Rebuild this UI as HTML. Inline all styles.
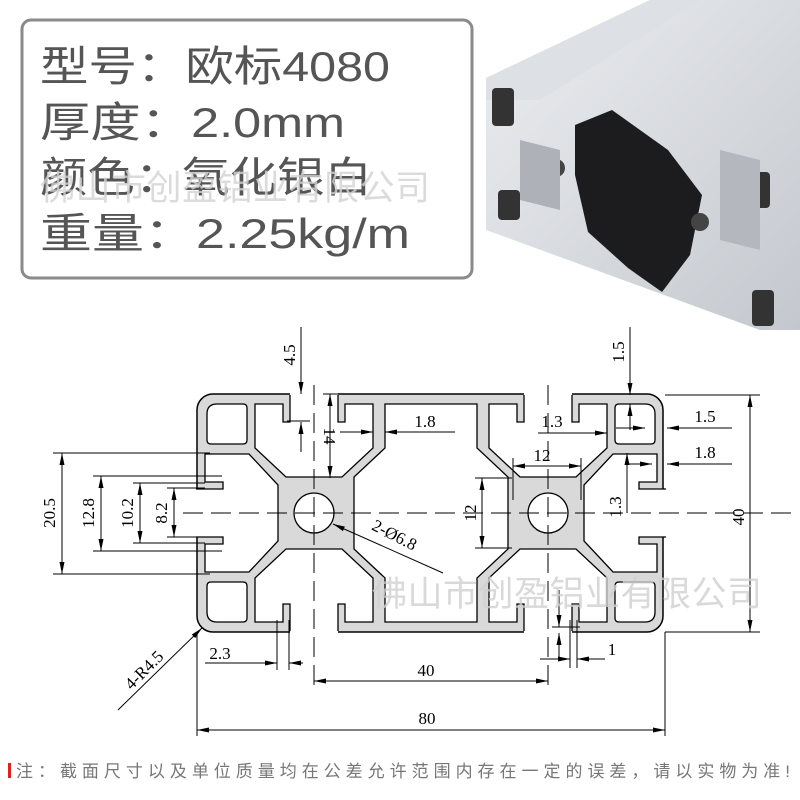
<!DOCTYPE html>
<html><head><meta charset="utf-8"><style>
html,body{margin:0;padding:0;background:#fff;}
body{width:800px;height:800px;overflow:hidden;position:relative;}
</style></head><body>
<svg width="800" height="800" viewBox="0 0 800 800" xmlns="http://www.w3.org/2000/svg" style="position:absolute;left:0;top:0">
<defs>
<marker id="a" markerWidth="12" markerHeight="6" refX="12" refY="3" orient="auto" markerUnits="userSpaceOnUse"><path d="M0,0.5 L12,3 L0,5.5 Z" fill="#000"/></marker>
<linearGradient id="g1" x1="0" y1="0" x2="1" y2="1"><stop offset="0" stop-color="#eceef1"/><stop offset="1" stop-color="#c4c8ce"/></linearGradient>
<g id="slot">
<polygon points="255,404 283,404 283,422 290,422 290,392 338,392 338,422 345,422 345,404 373,404 373,448 342,477 286,477 255,448" fill="#fff"/>
<polyline points="290,395 290,422 283,422 283,404 255,404 255,448 286,477 342,477 373,448 373,404 345,404 345,422 338,422 338,395" fill="none" stroke="#000" stroke-width="1.3"/>
</g>
</defs>

<!-- photo -->
<polygon points="486,78 650,0 800,0 800,330 760,330 486,230" fill="url(#g1)"/>
<polygon points="486,78 650,0 700,0 540,100 486,100" fill="#dde0e4"/>
<polygon points="575,125 612,110 668,150 702,195 690,255 662,292 628,268 588,232 575,175" fill="#1c1c1e"/>
<rect x="492" y="88" width="22" height="38" rx="4" fill="#333"/>
<rect x="498" y="190" width="22" height="30" rx="4" fill="#333"/>
<rect x="748" y="172" width="22" height="36" rx="4" fill="#333"/>
<rect x="752" y="290" width="22" height="36" rx="4" fill="#333"/>
<circle cx="556" cy="168" r="9" fill="#444"/>
<circle cx="700" cy="222" r="9" fill="#444"/>
<polygon points="520,140 560,150 560,210 520,200" fill="#aeb2b8"/>
<polygon points="720,150 760,160 760,250 720,240" fill="#b4b8be"/>

<!-- info box -->
<rect x="22" y="20" width="450" height="258" rx="9" fill="#fff" stroke="#8a8a8a" stroke-width="3"/>
<g font-family="Liberation Sans, Noto Sans CJK SC, sans-serif" font-size="42" fill="#555">
<text x="40" y="81" textLength="350" lengthAdjust="spacingAndGlyphs">型号：欧标4080</text>
<text x="40" y="137" textLength="305" lengthAdjust="spacingAndGlyphs">厚度：2.0mm</text>
<text x="40" y="192" textLength="332" lengthAdjust="spacingAndGlyphs">颜色：氧化银白</text>
<text x="40" y="248" textLength="370" lengthAdjust="spacingAndGlyphs">重量：2.25kg/m</text>
</g>
<text x="40" y="200" font-family="Liberation Sans, Noto Sans CJK SC, sans-serif" font-size="35" fill="#d2d2d2" fill-opacity="0.8" textLength="390">佛山市创盈铝业有限公司</text>

<!-- profile -->
<rect x="197" y="394" width="466" height="238" rx="16" fill="#d9d9d9" stroke="#000" stroke-width="1.5"/>
<use href="#slot"/>
<use href="#slot" transform="rotate(180 314 513)"/>
<use href="#slot" transform="rotate(-90 314 513)"/>
<use href="#slot" transform="translate(234 0)"/>
<use href="#slot" transform="translate(234 0) rotate(180 314 513)"/>
<use href="#slot" transform="translate(234 0) rotate(90 314 513)"/>
<g fill="#fff" stroke="#000" stroke-width="1.3">
<polygon points="385,404 477,404 477,448 508,477 508,549 477,578 477,622 385,622 385,578 354,549 354,477 385,448"/>
<path d="M217,404 H243 Q247,404 247,408 V440 Q247,444 243,444 H211 Q207,444 207,440 V414 Q207,404 217,404 Z"/>
<path d="M645,404 H619 Q615,404 615,408 V440 Q615,444 619,444 H651 Q655,444 655,440 V414 Q655,404 645,404 Z"/>
<path d="M217,622 H243 Q247,622 247,618 V586 Q247,582 243,582 H211 Q207,582 207,586 V612 Q207,622 217,622 Z"/>
<path d="M645,622 H619 Q615,622 615,618 V586 Q615,582 619,582 H651 Q655,582 655,586 V612 Q655,622 645,622 Z"/>
<circle cx="314" cy="513" r="20"/>
<circle cx="548" cy="513" r="20"/>
</g>

<!-- center lines -->
<g stroke="#000" stroke-width="1" stroke-dasharray="20 8" fill="none">
<line x1="183" y1="513" x2="795" y2="513"/>
<line x1="314" y1="385" x2="314" y2="690"/>
<line x1="548" y1="385" x2="548" y2="690"/>
</g>

<!-- dimension lines -->
<g stroke="#000" stroke-width="1" fill="none">
<line x1="53" y1="453" x2="210" y2="453"/><line x1="53" y1="574" x2="210" y2="574"/>
<line x1="62" y1="513" x2="62" y2="453" marker-end="url(#a)"/><line x1="62" y1="513" x2="62" y2="574" marker-end="url(#a)"/>
<line x1="93" y1="476" x2="222" y2="476"/><line x1="93" y1="551" x2="222" y2="551"/>
<line x1="101" y1="513" x2="101" y2="476" marker-end="url(#a)"/><line x1="101" y1="513" x2="101" y2="551" marker-end="url(#a)"/>
<line x1="133" y1="483" x2="205" y2="483"/><line x1="133" y1="543" x2="205" y2="543"/>
<line x1="140" y1="513" x2="140" y2="483" marker-end="url(#a)"/><line x1="140" y1="513" x2="140" y2="543" marker-end="url(#a)"/>
<line x1="167" y1="488" x2="205" y2="488"/><line x1="167" y1="537" x2="205" y2="537"/>
<line x1="174" y1="513" x2="174" y2="488" marker-end="url(#a)"/><line x1="174" y1="513" x2="174" y2="537" marker-end="url(#a)"/>
<line x1="301" y1="327" x2="301" y2="394" marker-end="url(#a)"/>
<line x1="301" y1="452" x2="301" y2="422" marker-end="url(#a)"/>
<line x1="287" y1="421" x2="310" y2="421"/>
<line x1="323" y1="394" x2="350" y2="394"/>
<line x1="330" y1="436" x2="330" y2="394" marker-end="url(#a)"/><line x1="330" y1="436" x2="330" y2="478" marker-end="url(#a)"/>
<line x1="340" y1="432" x2="373" y2="432" marker-end="url(#a)"/>
<line x1="455" y1="432" x2="385" y2="432" marker-end="url(#a)"/>
<line x1="538" y1="433" x2="607" y2="433" marker-end="url(#a)"/>
<line x1="513" y1="458" x2="513" y2="500"/><line x1="581" y1="458" x2="581" y2="500"/>
<line x1="547" y1="466" x2="513" y2="466" marker-end="url(#a)"/><line x1="547" y1="466" x2="581" y2="466" marker-end="url(#a)"/>
<line x1="475" y1="478" x2="512" y2="478"/><line x1="475" y1="548" x2="512" y2="548"/>
<line x1="482" y1="513" x2="482" y2="478" marker-end="url(#a)"/><line x1="482" y1="513" x2="482" y2="548" marker-end="url(#a)"/>
<line x1="630" y1="327" x2="630" y2="395" marker-end="url(#a)"/>
<line x1="630" y1="430" x2="630" y2="404" marker-end="url(#a)"/>
<line x1="616" y1="428" x2="645" y2="428" marker-end="url(#a)"/>
<line x1="732" y1="428" x2="667" y2="428" marker-end="url(#a)"/>
<line x1="625" y1="464" x2="652" y2="464" marker-end="url(#a)"/>
<line x1="732" y1="464" x2="667" y2="464" marker-end="url(#a)"/>
<line x1="627" y1="513" x2="627" y2="453" marker-end="url(#a)"/>
<line x1="665" y1="395" x2="760" y2="395"/><line x1="665" y1="632" x2="760" y2="632"/>
<line x1="750" y1="513" x2="750" y2="395" marker-end="url(#a)"/><line x1="750" y1="513" x2="750" y2="632" marker-end="url(#a)"/>
<line x1="277" y1="620" x2="277" y2="670"/><line x1="289" y1="620" x2="289" y2="670"/>
<line x1="205" y1="663" x2="277" y2="663" marker-end="url(#a)"/>
<line x1="303" y1="663" x2="289" y2="663" marker-end="url(#a)"/>
<line x1="431" y1="681" x2="314" y2="681" marker-end="url(#a)"/><line x1="431" y1="681" x2="548" y2="681" marker-end="url(#a)"/>
<line x1="197" y1="632" x2="197" y2="736"/><line x1="665" y1="632" x2="665" y2="736"/>
<line x1="431" y1="730" x2="197" y2="730" marker-end="url(#a)"/><line x1="431" y1="730" x2="665" y2="730" marker-end="url(#a)"/>
<line x1="570" y1="620" x2="570" y2="668"/><line x1="577" y1="620" x2="577" y2="668"/>
<line x1="540" y1="659" x2="570" y2="659" marker-end="url(#a)"/>
<line x1="605" y1="659" x2="577" y2="659" marker-end="url(#a)"/>
<line x1="559" y1="590" x2="559" y2="627" marker-end="url(#a)"/>
<line x1="559" y1="660" x2="559" y2="633" marker-end="url(#a)"/>
<line x1="552" y1="627" x2="580" y2="627"/>
<line x1="118" y1="710" x2="202" y2="628" marker-end="url(#a)"/>
<line x1="443" y1="573" x2="333" y2="524" marker-end="url(#a)"/>
</g>

<g font-family="Liberation Serif, serif" font-size="17" fill="#000" text-anchor="middle">
<text transform="translate(55 513) rotate(-90)">20.5</text>
<text transform="translate(94 513) rotate(-90)">12.8</text>
<text transform="translate(133 513) rotate(-90)">10.2</text>
<text transform="translate(167 513) rotate(-90)">8.2</text>
<text transform="translate(295 355) rotate(-90)">4.5</text>
<text transform="translate(324 436) rotate(90)">14</text>
<text x="425" y="427">1.8</text>
<text x="552" y="427">1.3</text>
<text x="542" y="461">12</text>
<text transform="translate(476 513) rotate(-90)">12</text>
<text transform="translate(624 352) rotate(-90)">1.5</text>
<text x="705" y="422">1.5</text>
<text x="705" y="458">1.8</text>
<text transform="translate(621 507) rotate(-90)">1.3</text>
<text transform="translate(744 517) rotate(-90)">40</text>
<text x="220" y="659">2.3</text>
<text x="426" y="676">40</text>
<text x="612" y="655">1</text>
<text x="427" y="724">80</text>
<text transform="translate(392 540) rotate(27)">2-Ø6.8</text>
<text transform="translate(148 674) rotate(-45)">4-R4.5</text>
</g>

<text x="372" y="606" font-family="Liberation Sans, Noto Sans CJK SC, sans-serif" font-size="35" fill="#cfcfcf" fill-opacity="0.8" textLength="390">佛山市创盈铝业有限公司</text>

<rect x="8" y="763" width="3" height="15" fill="#e02020"/>
<text x="16" y="777" font-family="Liberation Sans, Noto Sans CJK SC, sans-serif" font-size="17" fill="#777" textLength="774">注：截面尺寸以及单位质量均在公差允许范围内存在一定的误差，请以实物为准!</text>
</svg>
</body></html>
